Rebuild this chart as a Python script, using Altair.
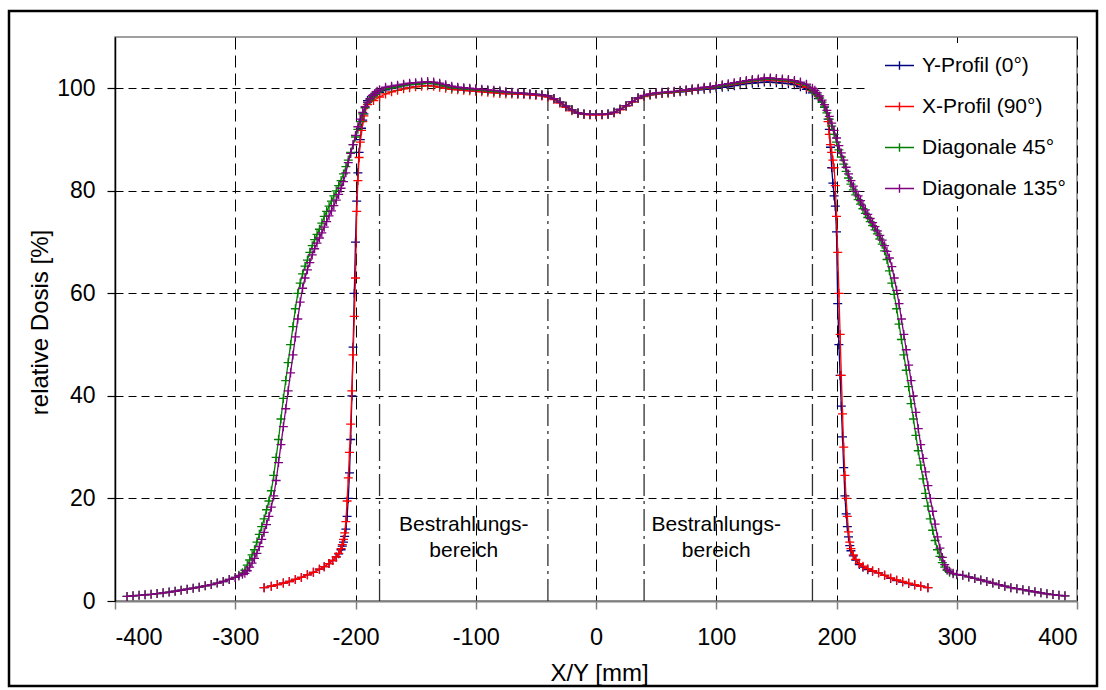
import altair as alt
import pandas as pd

# ---------------------------------------------------------------------------
# Measured dose profiles (relative dose in %, position in mm)
# ---------------------------------------------------------------------------
SERIES = ["Y-Profil (0°)", "X-Profil (90°)", "Diagonale 45°", "Diagonale 135°"]
COLORS = ["#000080", "#ff0000", "#008000", "#800080"]

# sampling positions of the axial profiles (denser across the field edges)
PROFILE_X = (
    [-276, -270, -265, -260, -255, -250, -245, -240, -235, -230, -226, -222, -219, -216, -214]
    + list(range(-212, -192))
    + list(range(-190, 191, 5))
    + list(range(193, 213))
    + [214, 216, 219, 222, 226, 230, 235, 240, 245, 250, 255, 260, 265, 270, 276]
)

# sampling positions of the diagonal profiles
DIAG_X = (
    list(range(-390, -299, 5)) + [-297, -294]
    + list(range(-292, -179, 2))
    + list(range(-175, 176, 5))
    + list(range(180, 293, 2))
    + [294, 297] + list(range(300, 391, 5))
)

Y_PROFIL = (
    [2.6, 2.9, 3.2, 3.5, 3.8, 4.2, 4.6, 5.1, 5.6, 6.2, 6.7, 7.3, 7.9, 8.6, 9.2]
    + [10.0, 10.7, 11.5, 12.6, 14.0, 16.5, 20.0, 25.0, 31.5, 40.0,
       49.5, 60.0, 70.0, 78.0, 83.5, 87.5, 90.0, 92.2, 93.8, 95.0]
    + [97.6, 98.6, 99.2, 99.7, 100.0, 100.3, 100.5, 100.7, 100.8, 100.9,
       101.0, 100.9, 100.7, 100.4, 100.1, 100.0, 99.9, 99.8, 99.7, 99.6,
       99.5, 99.4, 99.3, 99.2, 99.1, 99.0, 99.0, 98.9, 98.8, 98.7,
       98.5, 98.0, 97.3, 96.5, 95.8, 95.2, 95.0, 94.9, 94.9, 94.9,
       95.0, 95.3, 95.9, 96.6, 97.4, 98.1, 98.5, 98.7, 98.9, 99.0,
       99.1, 99.2, 99.3, 99.4, 99.6, 99.7, 99.8, 99.9, 100.0, 100.2,
       100.3, 100.5, 100.7, 100.9, 101.0, 101.1, 101.2, 101.2, 101.1, 101.0,
       100.9, 100.7, 100.3, 99.8, 99.1, 98.0, 96.3]
    + [94.0, 92.0, 88.5, 84.5, 81.5, 79.0, 77.0, 72.0, 58.0, 50.0,
       44.0, 38.0, 32.0, 26.0, 20.5, 17.0, 14.5, 12.5, 10.8, 9.8]
    + [8.8, 8.0, 7.1, 6.6, 6.1, 5.8, 5.5, 5.0, 4.4, 4.0, 3.7, 3.4, 3.1, 2.9, 2.6]
)

X_PROFIL = (
    [2.6, 2.9, 3.2, 3.5, 3.8, 4.2, 4.6, 5.1, 5.6, 6.2, 6.7, 7.3, 7.9, 8.6, 9.3]
    + [10.2, 11.0, 12.0, 13.3, 15.5, 19.5, 24.0, 29.0, 34.5, 41.0,
       48.0, 55.5, 63.0, 76.0, 82.0, 86.5, 89.5, 91.8, 93.5, 94.6]
    + [96.8, 97.6, 98.3, 98.9, 99.3, 99.6, 99.9, 100.1, 100.3, 100.4,
       100.5, 100.4, 100.2, 100.0, 99.8, 99.7, 99.6, 99.5, 99.4, 99.3,
       99.2, 99.1, 99.0, 98.9, 98.9, 98.8, 98.8, 98.7, 98.6, 98.5,
       98.3, 97.8, 97.1, 96.3, 95.6, 95.1, 94.9, 94.8, 94.8, 94.8,
       94.9, 95.2, 95.8, 96.5, 97.3, 98.0, 98.4, 98.7, 98.9, 99.0,
       99.1, 99.2, 99.4, 99.5, 99.7, 99.8, 100.0, 100.1, 100.3, 100.5,
       100.6, 100.8, 101.0, 101.2, 101.4, 101.5, 101.6, 101.6, 101.5, 101.4,
       101.3, 101.1, 100.7, 100.2, 99.5, 98.4, 96.8]
    + [93.5, 91.0, 89.0, 87.5, 86.0, 84.5, 81.0, 75.0, 68.0, 60.0,
       52.0, 44.0, 36.5, 30.0, 24.5, 20.0, 16.5, 13.5, 11.5, 10.2]
    + [9.0, 8.1, 7.3, 6.8, 6.3, 5.9, 5.5, 5.0, 4.5, 4.1, 3.8, 3.5, 3.2, 2.9, 2.6]
)

DIAG_45 = (
    [0.9, 1.0, 1.1, 1.2, 1.3, 1.45, 1.6, 1.75, 1.9, 2.1,
     2.3, 2.5, 2.7, 2.95, 3.2, 3.5, 3.8, 4.2, 4.6]
    + [5.0, 5.5]
    + [6.0, 7.0, 8.0, 9.0, 10.0, 11.5, 13.0, 14.5, 16.0, 17.8,
       19.5, 21.5, 24.5, 28.0, 31.5, 35.5, 39.5, 43.0, 46.5, 50.0,
       53.5, 57.0, 60.0, 62.0, 63.8, 65.3, 66.5, 68.0, 69.3, 70.5,
       71.5, 72.5, 73.7, 75.0, 76.0, 77.0, 78.0, 79.0, 80.0, 81.0,
       82.0, 83.3, 84.7, 86.0, 87.5, 89.0, 90.5, 92.0, 93.5, 95.0,
       96.2, 97.2, 97.8, 98.3, 98.8, 99.2, 99.5]
    + [99.9, 100.1, 100.3, 100.5, 100.7, 100.8, 100.9, 101.0, 100.9, 100.7,
       100.4, 100.1, 100.0, 99.9, 99.8, 99.7, 99.6, 99.5, 99.4, 99.3,
       99.2, 99.1, 99.0, 99.0, 98.9, 98.8, 98.7, 98.5, 98.0, 97.3,
       96.5, 95.8, 95.2, 95.0, 94.9, 94.9, 94.9, 95.0, 95.3, 95.9,
       96.6, 97.4, 98.1, 98.5, 98.8, 99.0, 99.1, 99.2, 99.3, 99.5,
       99.6, 99.8, 99.9, 100.1, 100.2, 100.3, 100.5, 100.7, 100.9, 101.1,
       101.3, 101.5, 101.6, 101.8, 101.8, 101.7, 101.6, 101.5, 101.3, 101.0,
       100.6]
    + [99.6, 99.2, 98.7, 98.1, 97.3, 96.3, 95.2, 94.0, 92.6, 91.0,
       89.5, 88.0, 86.6, 85.2, 83.8, 82.5, 81.3, 80.2, 79.2, 78.3,
       77.4, 76.5, 75.6, 74.8, 74.0, 73.2, 72.4, 71.6, 70.6, 69.6,
       68.3, 66.6, 64.4, 62.0, 59.8, 57.0, 54.0, 51.0, 48.0, 45.0,
       41.8, 38.5, 35.5, 32.3, 29.3, 26.5, 23.8, 21.0, 18.5, 16.0,
       13.8, 11.8, 10.0, 8.7, 7.5, 6.6, 6.0]
    + [5.6, 5.3]
    + [5.1, 5.0, 4.7, 4.4, 4.1, 3.8, 3.5, 3.2, 2.9, 2.6,
       2.4, 2.2, 2.0, 1.8, 1.6, 1.4, 1.25, 1.1, 1.0]
)

DIAG_135 = (
    [0.9, 1.0, 1.1, 1.2, 1.3, 1.45, 1.6, 1.75, 1.9, 2.1,
     2.3, 2.5, 2.7, 2.95, 3.2, 3.5, 3.8, 4.2, 4.6]
    + [4.9, 5.2]
    + [5.4, 5.9, 6.6, 7.4, 8.3, 9.3, 10.6, 12.0, 13.4, 14.9,
       16.5, 18.3, 20.5, 23.5, 27.0, 30.5, 34.0, 37.5, 41.0, 44.5,
       48.0, 51.5, 55.0, 58.3, 61.0, 63.0, 64.6, 66.0, 67.5, 68.7,
       69.8, 70.8, 71.8, 72.9, 74.0, 75.1, 76.1, 77.1, 78.2, 79.3,
       80.5, 81.8, 83.5, 85.5, 87.3, 89.0, 90.8, 92.5, 94.0, 95.3,
       96.4, 97.3, 98.0, 98.6, 99.0, 99.4, 99.7]
    + [100.2, 100.4, 100.6, 100.8, 101.0, 101.1, 101.2, 101.3, 101.2, 101.0,
       100.7, 100.4, 100.2, 100.1, 100.0, 99.9, 99.8, 99.7, 99.6, 99.5,
       99.3, 99.2, 99.1, 99.0, 98.9, 98.8, 98.7, 98.5, 98.0, 97.3,
       96.5, 95.8, 95.2, 95.0, 94.9, 94.9, 94.9, 95.0, 95.3, 95.9,
       96.6, 97.4, 98.1, 98.6, 98.9, 99.1, 99.2, 99.3, 99.4, 99.6,
       99.7, 99.9, 100.0, 100.2, 100.3, 100.5, 100.7, 100.9, 101.1, 101.3,
       101.5, 101.7, 101.8, 102.0, 102.0, 101.9, 101.8, 101.7, 101.5, 101.2,
       100.8]
    + [100.0, 99.6, 99.1, 98.5, 97.7, 96.8, 95.7, 94.5, 93.2, 91.8,
       90.3, 88.8, 87.4, 86.0, 84.6, 83.3, 82.0, 80.9, 79.9, 79.0,
       78.1, 77.2, 76.3, 75.4, 74.6, 73.8, 73.0, 72.2, 71.3, 70.4,
       69.3, 68.2, 66.9, 65.2, 63.0, 60.6, 58.0, 55.0, 52.0, 49.0,
       46.0, 43.0, 40.0, 36.8, 33.6, 30.5, 27.8, 25.2, 22.5, 20.0,
       17.5, 15.0, 12.5, 10.3, 8.5, 7.1, 6.2]
    + [5.8, 5.4]
    + [5.2, 5.0, 4.7, 4.4, 4.1, 3.8, 3.5, 3.2, 2.9, 2.6,
       2.4, 2.2, 2.0, 1.8, 1.6, 1.4, 1.25, 1.1, 1.0]
)

# boundaries of the irradiation region and their annotations
REGION_X = [-180, -40, 40, 180]
REGION_TOP = 100
NOTE_X = [-110, -110, 100, 100]
NOTE_Y = [14.8, 9.7, 14.8, 9.7]
NOTE_TEXT = ["Bestrahlungs-", "bereich", "Bestrahlungs-", "bereich"]

X_TICKS = list(range(-400, 401, 100))
Y_TICKS = [0, 20, 40, 60, 80, 100]

FONT = "Liberation Sans"
# plain hyphen for negative tick labels
PLAIN_LABEL = "'' + datum.value"

# ---------------------------------------------------------------------------
rows = []
for name, xs, ys in [
    (SERIES[0], PROFILE_X, Y_PROFIL),
    (SERIES[1], PROFILE_X, X_PROFIL),
    (SERIES[2], DIAG_X, DIAG_45),
    (SERIES[3], DIAG_X, DIAG_135),
]:
    assert len(xs) == len(ys), (name, len(xs), len(ys))
    for xv, yv in zip(xs, ys):
        rows.append({"x": xv, "y": yv, "series": name})
df = pd.DataFrame(rows)

x_enc = alt.X(
    "x:Q",
    scale=alt.Scale(domain=[-400, 400], nice=False, zero=False),
    axis=alt.Axis(
        values=X_TICKS, title="X/Y [mm]", grid=True, gridDash=[12, 6],
        gridColor="#000000", gridWidth=1, domainColor="#808080", domainWidth=2,
        tickColor="#808080", tickWidth=1.5, tickSize=8, labelPadding=16,
        labelFontSize=23.5, labelExpr=PLAIN_LABEL,
        titleX=484, titleY=79, titleBaseline="alphabetic", titleAlign="center",
        titleFontSize=24,
    ),
)
y_enc = alt.Y(
    "y:Q",
    scale=alt.Scale(domain=[0, 110], nice=False),
    axis=alt.Axis(
        values=Y_TICKS, title="relative Dosis [%]", grid=True, gridDash=[8, 5],
        gridColor="#000000", gridWidth=1, domainColor="#000000", domainWidth=1.5,
        tickColor="#000000", tickWidth=1.2, tickSize=8, labelPadding=12,
        labelFontSize=23, labelExpr=PLAIN_LABEL,
        titleX=-75, titleY=285, titleAngle=-90, titleBaseline="middle",
        titleAlign="center", titleFontSize=24,
    ),
)

# legend in a white box inside the upper right corner of the plot
legend = alt.Legend(
    title=None, orient="none", legendX=751, legendY=6, padding=7,
    fillColor="#ffffff", symbolOffset=11,
    symbolType="M-1,0H1M0,-0.3V0.3", symbolSize=841, symbolStrokeWidth=1.4,
    labelFont=FONT, labelFontSize=21, labelColor="#000000", labelOffset=7,
    rowPadding=15, labelLimit=400,
)
color_enc = alt.Color(
    "series:N", scale=alt.Scale(domain=SERIES, range=COLORS), legend=legend
)

base = alt.Chart(df)
layers = []
for name in SERIES:
    sub = base.transform_filter(alt.datum.series == name)
    layers.append(
        sub.mark_line(strokeWidth=1.3).encode(x=x_enc, y=y_enc, color=color_enc)
    )
    layers.append(
        sub.mark_point(
            shape="M-1,0H1M0,-1V1", size=81, filled=False, strokeWidth=1.3, opacity=1
        ).encode(x=x_enc, y=y_enc, color=color_enc)
    )

rules_df = pd.DataFrame({"x": REGION_X, "y": [0] * 4, "y2": [REGION_TOP] * 4})
rules = alt.Chart(rules_df).mark_rule(
    color="#303030", strokeWidth=1.3, strokeDash=[22, 5, 3, 5]
).encode(x=x_enc, y=y_enc, y2="y2:Q")

notes_df = pd.DataFrame({"x": NOTE_X, "y": NOTE_Y, "t": NOTE_TEXT})
notes = alt.Chart(notes_df).mark_text(
    font=FONT, fontSize=21, color="#000000", align="center", baseline="middle"
).encode(x=x_enc, y=y_enc, text="t:N")

frame = alt.Chart(pd.DataFrame({"k": [0]})).mark_rect(
    fill="transparent", stroke="#000000", strokeWidth=2.5
).encode(
    x=alt.value(-106), x2=alt.value(982), y=alt.value(-26), y2=alt.value(649)
)

chart = (
    alt.layer(rules, notes, *layers, frame)
    .properties(
        width=962, height=564,
        autosize=alt.AutoSizeParams(type="none"),
        padding={"left": 115, "top": 37, "right": 29, "bottom": 89},
        background="#ffffff",
    )
    .configure_view(stroke="#808080", strokeWidth=1.5)
    .configure_axis(
        labelFont=FONT, labelColor="#000000",
        titleFont=FONT, titleFontWeight="normal", titleColor="#000000",
    )
)

chart.save("out.html", embed_options={"renderer": "svg", "actions": False})
